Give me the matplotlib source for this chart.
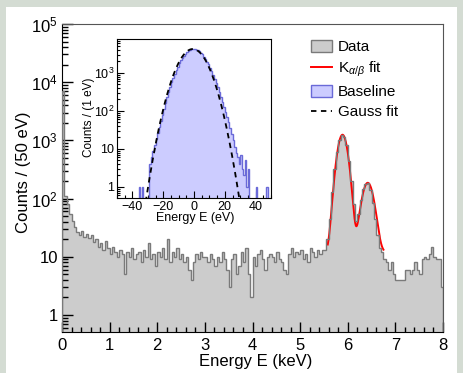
import numpy as np
import matplotlib
matplotlib.use('Agg')
import matplotlib.pyplot as plt
from matplotlib.patches import Patch, Rectangle
from matplotlib.lines import Line2D
from matplotlib.ticker import MultipleLocator, LogLocator, FuncFormatter, NullFormatter

plt.rcParams['font.family'] = ['Liberation Sans', 'DejaVu Sans']
plt.rcParams['mathtext.fontset'] = 'custom'
plt.rcParams['mathtext.rm'] = 'Liberation Sans'
plt.rcParams['mathtext.it'] = 'Liberation Sans:italic'
plt.rcParams['mathtext.bf'] = 'Liberation Sans:bold'

# ── main spectrum: 50 eV bins, 0 .. 8 keV ────────────────────
bin_width_kev = 0.05
spectrum_counts = [
    7000, 110, 80, 55, 42, 33, 27, 24, 28, 22,     # 0.00
    25, 21, 24, 18, 20, 15, 17, 13, 19, 14,        # 0.50
    11, 15, 12, 10, 13, 11, 5, 12, 10, 14,         # 1.00
    9, 11, 12, 8, 13, 10, 17, 9, 11, 7,            # 1.50
    12, 10, 14, 9, 20, 8, 12, 10, 14, 9,           # 2.00
    11, 8, 10, 6, 4, 8, 11, 9, 12, 10,             # 2.50
    10, 8, 11, 9, 7, 10, 8, 12, 9, 6,              # 3.00
    3, 9, 11, 5, 7, 12, 8, 14, 5, 2,               # 3.50
    10, 7, 11, 13, 9, 6, 10, 11, 10, 8,            # 4.00
    12, 9, 8, 6, 5, 11, 14, 10, 12, 11,            # 4.50
    13, 9, 11, 8, 14, 12, 10, 13, 11, 13,          # 5.00
    13, 20, 45, 130, 320, 640, 1000, 1250, 1150, 820,  # 5.50
    450, 200, 80, 42, 55, 95, 145, 180, 185, 140,  # 6.00
    85, 45, 24, 14, 12, 9, 8, 6, 8, 5,             # 6.50
    4, 4, 4, 4, 6, 6, 5, 6, 8, 6,                  # 7.00
    5, 9, 10, 9, 11, 15, 10, 9, 9, 3,              # 7.50
]

# K alpha / K beta fit parameters (keV)
fit_range = (5.58, 6.75)
fit_bg = 12
ka_amp, ka_mu, ka_sigma = 1240, 5.89, 0.092
kb_amp, kb_mu, kb_sigma = 175, 6.42, 0.105

# ── inset: baseline, 1 eV bins, -50 .. 50 eV ────────────────
baseline_counts = [
    0, 0, 0, 0, 0, 0, 0, 0, 0, 0,                        # -50
    0, 0, 0, 0, 1, 0, 1, 0, 0, 0,                        # -40
    0, 4, 6, 9, 13, 18, 26, 38, 55, 80,                  # -30
    115, 165, 230, 320, 430, 570, 740, 950, 1190, 1470,  # -20
    1780, 2120, 2470, 2830, 3180, 3500, 3780, 4000, 4160, 4240,  # -10
    4220, 4120, 3950, 3700, 3400, 3050, 2700, 2340, 1990, 1670,  # 0
    1380, 1120, 900, 710, 550, 420, 315, 235, 175, 130,  # 10
    96, 70, 50, 36, 25, 17, 11, 8, 6, 4,                 # 20
    7, 3, 2, 5, 1, 3, 0, 0, 0, 0,                        # 30
    1, 0, 0, 0, 0, 0, 0, 1, 0, 0,                        # 40
]
gauss_amp, gauss_mu, gauss_sigma = 4250, -0.8, 7.1

# ── figure ───────────────────────────────────────────────────
fig = plt.figure(figsize=(4.63, 3.73), dpi=100)
fig.patch.set_facecolor('#d4dcd3')
fig.patches.append(Rectangle((6 / 463, 0), 451 / 463, 366 / 373,
                             transform=fig.transFigure, facecolor='white',
                             edgecolor='none', zorder=-1))

ax = fig.add_axes([62 / 463, 41 / 373, 381 / 463, 308 / 373])

edges = np.arange(len(spectrum_counts) + 1) * bin_width_kev
plot_counts = np.clip(np.array(spectrum_counts, dtype=float), 1e-2, None)
ax.stairs(plot_counts, edges, fill=True, baseline=1e-2, color='#cccccc', zorder=1)

xf = np.linspace(fit_range[0], fit_range[1], 400)
kfit = (fit_bg + ka_amp * np.exp(-(xf - ka_mu) ** 2 / (2 * ka_sigma ** 2))
        + kb_amp * np.exp(-(xf - kb_mu) ** 2 / (2 * kb_sigma ** 2)))
ax.plot(xf, kfit, color='red', lw=1.4, zorder=2)
ax.stairs(plot_counts, edges, fill=False, baseline=1e-2, color='#7a7a7a', lw=1.0, zorder=3)

ax.set_yscale('log')
ax.set_xlim(0, 8)
ax.set_ylim(0.51, 1e5)


def root_log_fmt(v, pos):
    e = int(round(np.log10(v)))
    if e == 0:
        return '1'
    if e == 1:
        return '10'
    return r'$10^{%d}$' % e


ax.yaxis.set_major_locator(LogLocator(base=10, numticks=10))
ax.yaxis.set_minor_locator(LogLocator(base=10, subs=np.arange(2, 10), numticks=20))
ax.yaxis.set_major_formatter(FuncFormatter(root_log_fmt))
ax.yaxis.set_minor_formatter(NullFormatter())
ax.xaxis.set_major_locator(MultipleLocator(1))
ax.xaxis.set_minor_locator(MultipleLocator(0.2))
ax.tick_params(which='both', direction='in', top=False, right=False, labelsize=12, width=1)
ax.tick_params(axis='y', which='major', length=8, pad=3)
ax.tick_params(axis='y', which='minor', length=4)
ax.tick_params(axis='x', which='major', length=7, pad=4)
ax.tick_params(axis='x', which='minor', length=3.5)
for s in ['top', 'right']:
    ax.spines[s].set_color('#555555')

ax.set_xlabel('Energy E (keV)', fontsize=12)
ax.xaxis.set_label_coords(0.509, -0.07)
ax.set_ylabel('Counts / (50 eV)', fontsize=12)
ax.yaxis.set_label_coords(-0.082, 0.52)

handles = [
    Patch(facecolor='#cccccc', edgecolor='#7a7a7a'),
    Line2D([], [], color='red', lw=1.4),
    Patch(facecolor='#ccccff', edgecolor='#6a6ad8'),
    Line2D([], [], color='black', lw=1.3, ls=(0, (3, 2.5))),
]
labels = ['Data', r'K$_{\alpha/\beta}$ fit', 'Baseline', 'Gauss fit']
fig.legend(handles, labels, loc='upper left', bbox_to_anchor=(311 / 463, 1 - 40 / 373),
           frameon=False, fontsize=11, handlelength=1.4, handleheight=0.8,
           handletextpad=0.35, labelspacing=0.38, borderpad=0, borderaxespad=0)

# ── inset ────────────────────────────────────────────────────
ins = fig.add_axes([117 / 463, 175 / 373, 154 / 463, 159 / 373])
b_edges = np.arange(-50, 51)
b_counts = np.clip(np.array(baseline_counts, dtype=float), 1e-2, None)
ins.stairs(b_counts, b_edges, fill=True, baseline=1e-2, color='#ccccff', zorder=1)
ins.stairs(b_counts, b_edges, fill=False, baseline=1e-2, color='#6a6ad8', lw=1.0, zorder=2)
xg = np.linspace(-40, 40, 400)
ins.plot(xg, gauss_amp * np.exp(-(xg - gauss_mu) ** 2 / (2 * gauss_sigma ** 2)),
         color='black', lw=1.3, ls=(0, (3, 2.5)), zorder=3)
ins.set_yscale('log')
ins.set_xlim(-50, 50)
ins.set_ylim(0.51, 7800)
ins.yaxis.set_major_locator(LogLocator(base=10, numticks=10))
ins.yaxis.set_minor_locator(LogLocator(base=10, subs=np.arange(2, 10), numticks=20))
ins.yaxis.set_major_formatter(FuncFormatter(root_log_fmt))
ins.yaxis.set_minor_formatter(NullFormatter())
ins.xaxis.set_major_locator(MultipleLocator(20))
ins.xaxis.set_minor_locator(MultipleLocator(5))
ins.tick_params(which='both', direction='in', top=False, right=False, labelsize=9, width=0.8)
ins.tick_params(which='major', length=5, pad=2)
ins.tick_params(which='minor', length=2.5)
ins.set_xlabel('Energy E (eV)', fontsize=9)
ins.xaxis.set_label_coords(0.506, -0.09)
ins.set_ylabel('Counts / (1 eV)', fontsize=8.5)
ins.yaxis.set_label_coords(-0.145, 0.51)

fig.savefig('out.png', dpi=100)
